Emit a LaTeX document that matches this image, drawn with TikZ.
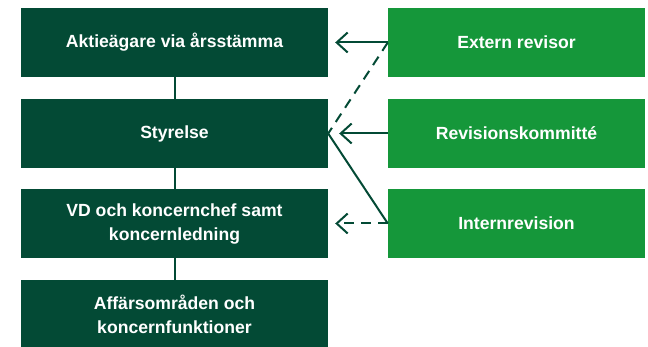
\documentclass[tikz,border=0pt]{standalone}
\usepackage{fontspec}
\setmainfont{Liberation Sans}
\usetikzlibrary{arrows.meta}
\definecolor{darkgreen}{HTML}{034A35}
\definecolor{lightgreen}{HTML}{15973A}
\tikzset{
	mainbox/.style={fill=darkgreen, text=white, minimum width=307pt, minimum height=69pt, align=center, font=\fontsize{17.6}{24}\selectfont\bfseries, inner sep=0pt},
	sidebox/.style={fill=lightgreen, text=white, minimum width=257pt, minimum height=69pt, align=center, font=\fontsize{17.6}{24}\selectfont\bfseries, inner sep=0pt},
	link/.style={darkgreen, line width=2pt},
	pointer/.style={link, -{Straight Barb[length=11pt, width=20pt, line width=2pt]}},
	dashlink/.style={link, dash pattern=on 10pt off 7pt}
}
\begin{document}
\begin{tikzpicture}[x=1pt, y=-1pt]
				\useasboundingbox (0,0) rectangle (648,347);
				% chain on the left
				\node[mainbox] (owners) at (174.5,42.5) {Aktieägare via årsstämma};
				\node[mainbox] (board) at (174.5,133.5) {Styrelse};
				\node[mainbox] (ceo) at (174.5,223.5) {VD och koncernchef samt\\koncernledning};
				\node[mainbox] (units) at (174.5,314.5) {Affärsområden och\\koncernfunktioner};
				\draw[link] (owners) -- (board);
				\draw[link] (board) -- (ceo);
				\draw[link] (ceo) -- (units);
				% control bodies on the right
				\node[sidebox] (auditor) at (516.5,42.5) {Extern revisor};
				\node[sidebox] (committee) at (516.5,133.5) {Revisionskommitté};
				\node[sidebox] (internal) at (516.5,223.5) {Internrevision};
				\draw[pointer, shorten >=7pt] (auditor.west) -- (owners.east);
				\draw[pointer, shorten >=11pt] (committee.west) -- (board.east);
				\draw[dashlink] (auditor.west) -- (board.east);
				\draw[link] (internal.west) -- (board.east);
				\draw[pointer, dash pattern=on 10pt off 7pt, shorten >=7pt] (internal.west) -- (ceo.east);
			\end{tikzpicture}
\end{document}
